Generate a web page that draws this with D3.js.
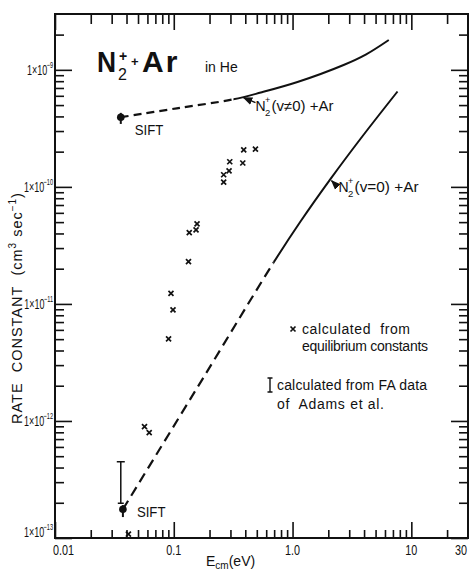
<!DOCTYPE html>
<html>
<head>
<meta charset="utf-8">
<script src="https://cdn.jsdelivr.net/npm/d3@7"></script>
<style>
  body { margin: 0; background: #fff; }
  svg { display: block; font-family: "Liberation Sans", Arial, sans-serif; }
</style>
</head>
<body>
<svg id="chart" width="471" height="571"></svg>
<script>
// ---- Data: centre-of-mass energy (eV) vs. rate constant (cm^3 s^-1) ----

// N2+(v>0) + Ar : dashed (extrapolated) below excitedSolidFrom, solid above
const excitedE = [0.0358, 0.106, 0.318, 0.54, 1.1, 2.69, 4.13, 6.46];
const excitedK = [3.94e-10, 4.69e-10, 5.60e-10, 6.40e-10, 7.87e-10, 1.10e-9, 1.35e-9, 1.80e-9];
const excitedSolidFrom = 0.318;

// N2+(v=0) + Ar
const groundE = [0.0373, 0.18, 0.695, 1.17, 2.09, 3.75, 7.65];
const groundK = [1.76e-13, 2.40e-12, 2.27e-11, 5.08e-11, 1.17e-10, 2.59e-10, 6.53e-10];
const groundSolidFrom = 0.695;

// Values calculated from equilibrium constants
const equilE = [0.0415, 0.0567, 0.0621, 0.0904, 0.0947, 0.0985, 0.133, 0.135, 0.154,
                0.157, 0.263, 0.263, 0.292, 0.296, 0.381, 0.388, 0.487];
const equilK = [1.08e-13, 8.94e-13, 7.94e-13, 5.02e-12, 1.23e-11, 8.89e-12, 2.30e-11,
                4.07e-11, 4.29e-11, 4.83e-11, 1.10e-10, 1.27e-10, 1.37e-10, 1.64e-10,
                1.60e-10, 2.07e-10, 2.10e-10];

// SIFT measurements with their error bars
const siftE     = [0.0358, 0.0373];
const siftK     = [3.94e-10, 1.76e-13];
const siftKLow  = [3.45e-10, 1.51e-13];
const siftKHigh = [4.29e-10, 1.91e-13];

// Range calculated from FA data of Adams et al.
const faE     = [0.0358];
const faKLow  = [1.98e-13];
const faKHigh = [4.49e-13];

// Curve label arrow tips (points on the curves)
const labelTipE = [0.379, 2.09];
const labelTipK = [5.90e-10, 1.15e-10];
const labelStates = ["(v≠0)", "(v=0)"];

// Axis ticks
const xMajor = [0.01, 0.1, 1, 10];
const xMinor = [0.02,0.03,0.04,0.05,0.06,0.07,0.08,0.09,
                0.2,0.3,0.4,0.5,0.6,0.7,0.8,0.9,
                2,3,4,5,6,7,8,9,20];
const xTickValues = [0.01, 0.1, 1, 10, 30];
const xTickLabels = ["0.01", "0.1", "1.0", "10", "30"];
const yMajor = [1e-13, 1e-12, 1e-11, 1e-10, 1e-9];
const yTickExponents = ["13", "12", "11", "10", "9"];
const yMinor = [];
[1e-13, 1e-12, 1e-11, 1e-10].forEach(d => { for (let m = 2; m <= 9; m++) yMinor.push(m * d); });
yMinor.push(2e-9);

// ---- Layout ----
const svg = d3.select("#chart");
const plotLeft = 55, plotRight = 468, plotTop = 14, plotBottom = 538;
const x = d3.scaleLog().domain([0.01, 30]).range([plotLeft, plotRight]);
const y = d3.scaleLog().domain([1e-13, 3e-9]).range([plotBottom, plotTop]);

const ink = "#111";
const defs = svg.append("defs");

// Narrow lettering: squeeze a text element to a fraction of its natural width
function condense(sel, ratio) {
  const w = sel.node().getComputedTextLength();
  sel.attr("textLength", w * ratio).attr("lengthAdjust", "spacingAndGlyphs");
  return sel;
}

// ---- Ticks on all four sides (pointing inward) ----
function drawAxis(axis, transform) {
  const g = svg.append("g").attr("transform", transform).call(axis);
  g.select(".domain").remove();
  g.selectAll("line").attr("stroke", ink).attr("stroke-width", 1.6);
  g.selectAll("text").remove();
}
drawAxis(d3.axisBottom(x).tickValues(xMinor).tickSize(-8), `translate(0,${plotBottom})`);
drawAxis(d3.axisBottom(x).tickValues(xMajor).tickSize(-16), `translate(0,${plotBottom})`);
drawAxis(d3.axisTop(x).tickValues(xMinor).tickSize(-10), `translate(0,${plotTop})`);
drawAxis(d3.axisTop(x).tickValues(xMajor).tickSize(-16), `translate(0,${plotTop})`);
drawAxis(d3.axisLeft(y).tickValues(yMinor).tickSize(-9), `translate(${plotLeft},0)`);
drawAxis(d3.axisLeft(y).tickValues(yMajor).tickSize(-17), `translate(${plotLeft},0)`);
drawAxis(d3.axisRight(y).tickValues(yMinor).tickSize(-9), `translate(${plotRight},0)`);
drawAxis(d3.axisRight(y).tickValues(yMajor).tickSize(-17), `translate(${plotRight},0)`);

// Frame
svg.append("rect")
  .attr("x", plotLeft).attr("y", plotTop)
  .attr("width", plotRight - plotLeft).attr("height", plotBottom - plotTop)
  .attr("fill", "none").attr("stroke", ink).attr("stroke-width", 2);

// ---- Tick labels ----
const xl = svg.append("g").attr("fill", ink);
xTickValues.forEach((v, i) => {
  const last = i === xTickValues.length - 1;
  const t = xl.append("text")
    .attr("x", x(v) + (i === 0 ? -2 : last ? -1 : 0)).attr("y", plotBottom + 17)
    .attr("text-anchor", i === 0 ? "start" : last ? "end" : "middle")
    .attr("font-size", 15)
    .text(xTickLabels[i]);
  condense(t, 0.72);
});

// "1×10^-n" labels in one narrow text each
const yl = svg.append("g").attr("fill", ink);
yMajor.forEach((v, i) => {
  const by = y(v) + (i === 0 ? -1 : 5);
  const t = yl.append("text")
    .attr("transform", `translate(${plotLeft - 2},${by}) scale(0.62,1)`)
    .attr("text-anchor", "end").attr("font-size", 14.5);
  t.append("tspan").text("1×10");
  t.append("tspan").attr("font-size", 9).attr("dx", -1).attr("dy", -7).text("−" + yTickExponents[i]);
});

// ---- Axis titles ----
const xt = svg.append("text").attr("x", 206).attr("y", 566).attr("font-size", 14).attr("fill", ink);
xt.append("tspan").text("E");
xt.append("tspan").attr("font-size", 10).attr("dy", 3).text("cm");
xt.append("tspan").attr("dy", -3).text("(eV)");

const yt = svg.append("text")
  .attr("transform", "translate(22,308) rotate(-90)")
  .attr("text-anchor", "middle")
  .attr("font-size", 14.5).attr("letter-spacing", 1).attr("fill", ink);
yt.append("tspan").text("RATE\u00a0 CONSTANT\u00a0 (cm");
yt.append("tspan").attr("font-size", 10).attr("dy", -6).text("3");
yt.append("tspan").attr("dy", 6).text(" sec");
yt.append("tspan").attr("font-size", 10).attr("dy", -6).text("−1");
yt.append("tspan").attr("dy", 6).text(")");

// ---- Curves: one smooth path each, dashed and solid parts via clipping ----
const line = d3.line().x(d => x(d[0])).y(d => y(d[1])).curve(d3.curveCatmullRom.alpha(0.5));
const zip = (a, b) => a.map((v, i) => [v, b[i]]);

function splitCurve(id, pts, solidFrom, dash) {
  const xs = x(solidFrom);
  defs.append("clipPath").attr("id", id + "-lo")
    .append("rect").attr("x", 0).attr("y", 0).attr("width", xs).attr("height", 571);
  defs.append("clipPath").attr("id", id + "-hi")
    .append("rect").attr("x", xs).attr("y", 0).attr("width", 471 - xs).attr("height", 571);
  svg.append("path").datum(pts).attr("d", line)
    .attr("clip-path", `url(#${id}-lo)`)
    .attr("fill", "none").attr("stroke", ink).attr("stroke-width", 2.2)
    .attr("stroke-dasharray", dash);
  svg.append("path").datum(pts).attr("d", line)
    .attr("clip-path", `url(#${id}-hi)`)
    .attr("fill", "none").attr("stroke", ink).attr("stroke-width", 2);
}
splitCurve("excited", zip(excitedE, excitedK), excitedSolidFrom, "8,5");
splitCurve("ground", zip(groundE, groundK), groundSolidFrom, "10,6");

// ---- Equilibrium-constant points (crosses) ----
const cross = (cx, cy, r) => `M${cx - r},${cy - r}L${cx + r},${cy + r}M${cx - r},${cy + r}L${cx + r},${cy - r}`;
svg.append("g").selectAll("path")
  .data(zip(equilE, equilK))
  .join("path")
  .attr("d", d => cross(x(d[0]), y(d[1]), 2.5))
  .attr("stroke", ink).attr("stroke-width", 1.7).attr("fill", "none");

// ---- FA range bar ----
faE.forEach((e, i) => {
  const cx = x(e), y1 = y(faKHigh[i]), y2 = y(faKLow[i]);
  svg.append("path")
    .attr("d", `M${cx},${y1}L${cx},${y2}M${cx - 4},${y1}L${cx + 4},${y1}M${cx - 3},${y2}L${cx + 3},${y2}`)
    .attr("stroke", ink).attr("stroke-width", 1.5).attr("fill", "none");
});

// ---- SIFT points ----
const siftLabelDy = [18, 8];
siftE.forEach((e, i) => {
  const cx = x(e);
  svg.append("line")
    .attr("x1", cx).attr("x2", cx)
    .attr("y1", y(siftKHigh[i])).attr("y2", y(siftKLow[i]))
    .attr("stroke", ink).attr("stroke-width", 2);
  svg.append("circle")
    .attr("cx", cx).attr("cy", y(siftK[i])).attr("r", 3.8).attr("fill", ink);
  const t = svg.append("text")
    .attr("x", cx + 14).attr("y", y(siftK[i]) + siftLabelDy[i])
    .attr("font-size", 15).attr("fill", ink)
    .text("SIFT");
  condense(t, 0.88);
});

// ---- Curve labels with arrows ----
defs.append("marker")
  .attr("id", "arrowhead").attr("viewBox", "0 0 10 10")
  .attr("refX", 9).attr("refY", 5)
  .attr("markerWidth", 7).attr("markerHeight", 7)
  .attr("orient", "auto")
  .append("path").attr("d", "M0,1L10,5L0,9Z").attr("fill", ink);

const labelTail = [[13, 6], [7, 7]];
const labelText = [[13, 14], [8, 12]];
const labelRestWidth = [62, 64];
labelTipE.forEach((e, i) => {
  const tx = x(e), ty = y(labelTipK[i]);
  svg.append("line")
    .attr("x1", tx + labelTail[i][0]).attr("y1", ty + labelTail[i][1])
    .attr("x2", tx + 1).attr("y2", ty + 1)
    .attr("stroke", ink).attr("stroke-width", 1.4)
    .attr("marker-end", "url(#arrowhead)");
  const lx = tx + labelText[i][0], ly = ty + labelText[i][1];
  const g = svg.append("g").attr("fill", ink);
  g.append("text").attr("x", lx).attr("y", ly).attr("font-size", 14).text("N");
  g.append("text").attr("x", lx + 9.5).attr("y", ly - 8).attr("font-size", 9).text("+");
  g.append("text").attr("x", lx + 9.5).attr("y", ly + 5).attr("font-size", 9.5).text("2");
  g.append("text").attr("x", lx + 16).attr("y", ly).attr("font-size", 14)
    .attr("textLength", labelRestWidth[i]).attr("lengthAdjust", "spacingAndGlyphs")
    .text(labelStates[i] + " +Ar");
});

// ---- Title ----
const title = svg.append("g").attr("fill", ink);
condense(title.append("text").attr("x", 97).attr("y", 72).attr("font-size", 30)
  .attr("font-weight", "bold").text("N"), 0.88);
title.append("text").attr("x", 118).attr("y", 80).attr("font-size", 16).text("2");
title.append("text").attr("x", 119).attr("y", 61).attr("font-size", 14).attr("font-weight", "bold").text("+");
title.append("text").attr("x", 131).attr("y", 66).attr("font-size", 13).attr("font-weight", "bold").text("+");
title.append("text").attr("x", 142).attr("y", 72).attr("font-size", 30).attr("font-weight", "bold")
  .attr("letter-spacing", 2).text("Ar");
svg.append("text").attr("x", 205).attr("y", 72).attr("font-size", 14).attr("fill", ink).text("in He");

// ---- Legend notes ----
const note = svg.append("g").attr("font-size", 14).attr("fill", ink);
note.append("path").attr("d", cross(293, 329, 2.5))
  .attr("stroke", ink).attr("stroke-width", 1.7).attr("fill", "none");
note.append("text").attr("x", 302).attr("y", 334).attr("textLength", 108).attr("lengthAdjust", "spacing")
  .text("calculated\u00a0 from");
note.append("text").attr("x", 302).attr("y", 351).attr("textLength", 126).attr("lengthAdjust", "spacing")
  .text("equilibrium constants");
note.append("path").attr("d", "M270,378L270,392M267.5,378L272.5,378M267.5,392L272.5,392")
  .attr("stroke", ink).attr("stroke-width", 1.4).attr("fill", "none");
note.append("text").attr("x", 277).attr("y", 390).attr("textLength", 150).attr("lengthAdjust", "spacing")
  .text("calculated from FA data");
note.append("text").attr("x", 277).attr("y", 409).attr("textLength", 107).attr("lengthAdjust", "spacing")
  .text("of\u00a0 Adams et al.");
</script>
</body>
</html>
